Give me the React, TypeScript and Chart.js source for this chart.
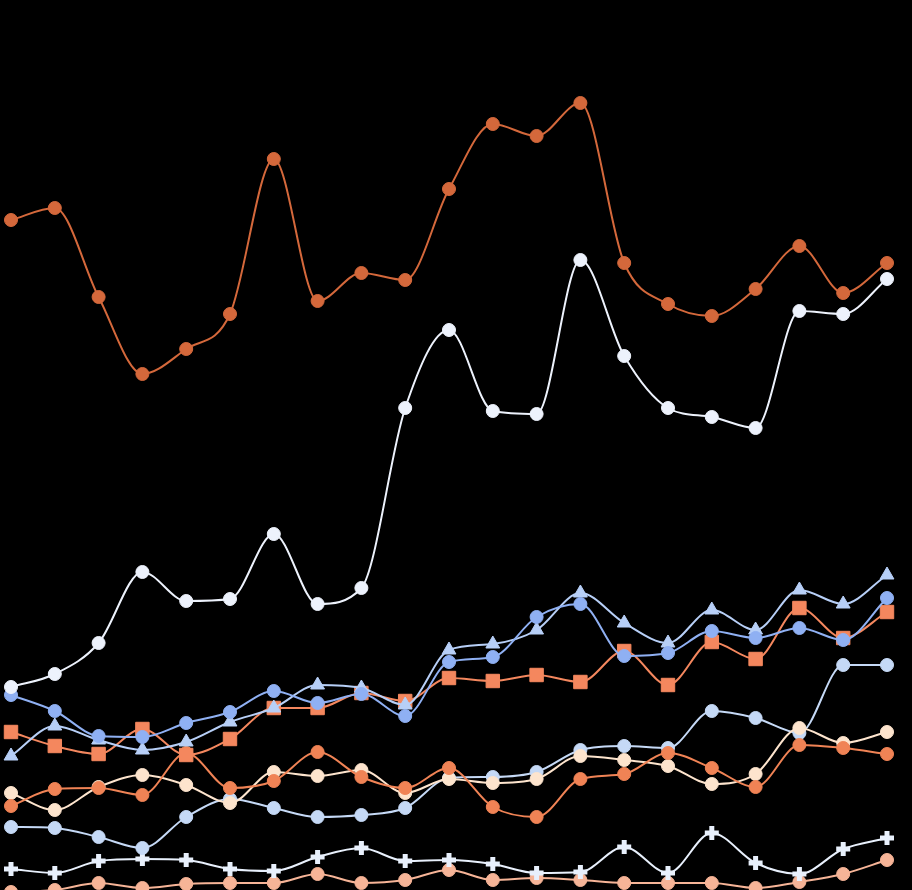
import React, { useEffect, useRef } from "react";
import { Chart, registerables } from "chart.js";

Chart.register(...registerables);

const periods = [
  "P01", "P02", "P03", "P04", "P05", "P06", "P07", "P08", "P09", "P10", "P11",
  "P12", "P13", "P14", "P15", "P16", "P17", "P18", "P19", "P20", "P21",
];

const seriesA = [67.0, 68.2, 59.3, 51.6, 54.1, 57.6, 73.1, 58.9, 61.7, 61.0, 70.1, 76.6, 75.4, 78.7, 62.7, 58.6, 57.4, 60.1, 64.4, 59.7, 62.7];
const seriesB = [20.3, 21.6, 24.7, 31.8, 28.9, 29.1, 35.6, 28.6, 30.2, 48.2, 56.0, 47.9, 47.6, 63.0, 53.4, 48.2, 47.3, 46.2, 57.9, 57.6, 61.1];
const seriesC = [19.5, 17.9, 15.4, 15.3, 16.7, 17.8, 19.9, 18.7, 19.6, 17.4, 22.8, 23.3, 27.3, 28.6, 23.4, 23.7, 25.9, 25.2, 26.2, 25.0, 29.2];
const seriesD = [13.4, 16.4, 15.0, 14.0, 14.8, 16.8, 18.2, 20.5, 20.2, 18.5, 24.0, 24.6, 26.0, 29.7, 26.7, 24.7, 28.0, 26.0, 30.0, 28.6, 31.5];
const seriesE = [15.8, 14.4, 13.6, 16.1, 13.5, 15.1, 18.2, 18.2, 19.7, 18.9, 21.2, 20.9, 21.5, 20.8, 23.9, 20.5, 24.8, 23.1, 28.2, 25.2, 27.8];
const seriesF = [8.4, 10.1, 10.2, 9.5, 13.7, 10.2, 10.9, 13.8, 11.3, 10.2, 12.2, 8.3, 7.3, 11.1, 11.6, 13.7, 12.2, 10.3, 14.5, 14.2, 13.6];
const seriesG = [9.7, 8.0, 10.3, 11.5, 10.5, 8.7, 11.8, 11.4, 12.0, 9.7, 11.1, 10.7, 11.1, 13.4, 13.0, 12.4, 10.6, 11.6, 16.2, 14.7, 15.8];
const seriesH = [6.3, 6.2, 5.3, 4.2, 7.3, 9.1, 8.2, 7.3, 7.5, 8.2, 11.2, 11.3, 11.8, 14.0, 14.4, 14.2, 17.9, 17.2, 15.7, 22.5, 22.5];
const seriesI = [2.1, 1.7, 2.9, 3.1, 3.0, 2.1, 1.9, 3.3, 4.2, 2.9, 3.0, 2.6, 1.7, 1.8, 4.3, 1.7, 5.7, 2.7, 1.6, 4.1, 5.2];
const seriesJ = [-0.2, 0.0, 0.7, 0.2, 0.6, 0.7, 0.7, 1.6, 0.7, 1.0, 2.0, 1.0, 1.2, 1.0, 0.7, 0.7, 0.7, 0.2, 0.8, 1.6, 3.0];

const line = (
  label: string,
  data: number[],
  color: string,
  pointStyle: any = "circle",
  pointRadius = 6.5,
  pointBorderWidth = 1
) => ({
  label,
  data,
  borderColor: color,
  backgroundColor: color,
  pointBackgroundColor: color,
  pointBorderColor: color,
  borderWidth: 2,
  pointStyle,
  pointRadius,
  pointBorderWidth,
  cubicInterpolationMode: "monotone" as const,
});

const App: React.FC = () => {
  const chartRef = useRef<HTMLCanvasElement | null>(null);

  useEffect(() => {
    document.body.style.margin = "0";
    document.body.style.background = "#000";
    document.body.style.overflow = "hidden";
    if (!chartRef.current) return;

    const chart = new Chart(chartRef.current, {
      type: "line",
      data: {
        labels: periods,
        datasets: [
          line("A", seriesA, "#d4683b"),
          line("B", seriesB, "#edf2fc"),
          line("C", seriesC, "#8fb0f3"),
          line("D", seriesD, "#b7cff7", "triangle", 8),
          line("E", seriesE, "#f4875e", "rect", 9.5),
          line("F", seriesF, "#f08355"),
          line("G", seriesG, "#fde4cd"),
          line("H", seriesH, "#c5d9f6"),
          line("I", seriesI, "#e8f0fc", "cross", 7, 5),
          line("J", seriesJ, "#f6b497"),
        ],
      },
      options: {
        animation: false,
        responsive: true,
        maintainAspectRatio: false,
        layout: { autoPadding: false, padding: { left: 11, right: 25, top: 0, bottom: 0 } },
        plugins: {
          legend: { display: false },
          tooltip: { enabled: false },
        },
        scales: {
          x: { display: false },
          y: { display: false, min: 0, max: 89 },
        },
      },
    });

    return () => {
      chart.destroy();
    };
  }, []);

  return (
    <div style={{ position: "relative", width: "912px", height: "890px", background: "#000" }}>
      <canvas ref={chartRef} />
    </div>
  );
};

export default App;
